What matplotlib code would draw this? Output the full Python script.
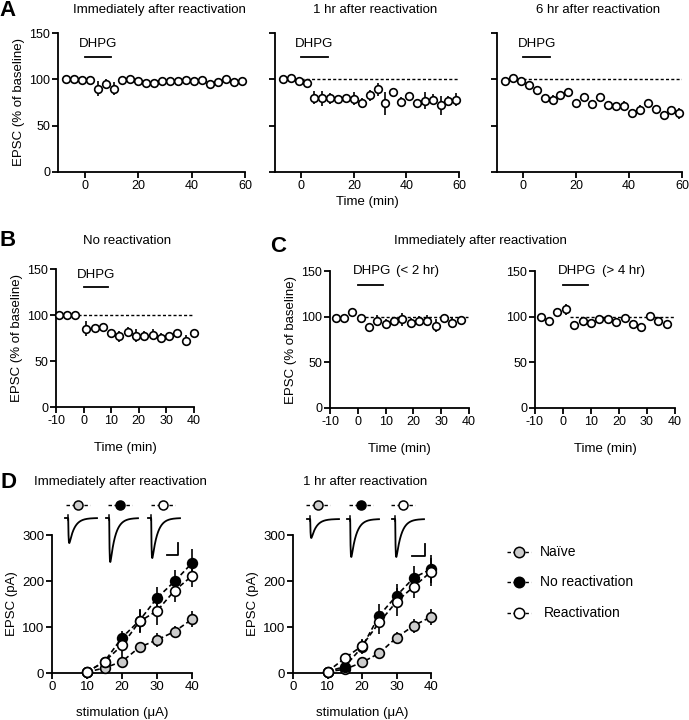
import numpy as np
import matplotlib
matplotlib.use("Agg")
import matplotlib.pyplot as plt

plt.rcParams["font.family"] = ["Liberation Sans", "DejaVu Sans"]
plt.rcParams["axes.unicode_minus"] = False

W, H = 689, 720

# ---- data: panel A (time course, % of baseline) ----
t_a = [-7, -4, -1, 2, 5, 8, 11, 14, 17, 20, 23, 26, 29, 32, 35, 38, 41, 44, 47, 50, 53, 56, 59]
a1_mean = [100, 100, 99.5, 99, 90, 95, 90, 99, 100.5, 98, 96, 96, 98, 98.5, 98, 99, 98, 99.5, 95, 97, 100, 97, 98]
a1_err = [1, 1, 1, 2, 8, 5, 7, 3, 2, 2, 2, 2, 2, 2, 2, 2, 2, 2, 4, 2, 2, 2, 2]
a2_mean = [100, 101.5, 98, 96, 80, 79.5, 79.5, 78.5, 79.5, 79, 74.5, 83, 89.5, 74, 86, 76, 82, 75, 77, 78, 72, 77, 78]
a2_err = [1, 1, 1, 1, 7, 8, 6, 3, 4, 7, 5, 6, 7, 12, 3, 5, 3, 4, 9, 6, 10, 5, 7]
a3_mean = [98, 101, 98, 93.5, 89, 80, 78, 83, 86, 74.5, 81, 73, 80.5, 72, 71, 71.5, 63.5, 67, 75, 68, 62, 67, 63.5]
a3_err = [2, 2, 2, 3, 4, 4, 5, 3, 3, 3, 3, 5, 3, 4, 4, 5, 4, 5, 3, 4, 3, 4, 6]
a_titles = ["Immediately after reactivation", "1 hr after reactivation", "6 hr after reactivation"]

# ---- panel B ----
t_b = [-9, -6, -3, 1, 4, 7, 10, 13, 16, 19, 22, 25, 28, 31, 34, 37, 40]
b_mean = [100, 100, 100, 85, 85.5, 87, 80.5, 77, 81.5, 77.5, 77.5, 78.5, 75.5, 77, 80, 72, 80]
b_err = [1, 1, 1, 8, 3, 3, 4, 6, 5, 7, 5, 6, 5, 5, 5, 6, 5]

# ---- panel C ----
t_c = [-8, -5, -2, 1, 4, 7, 10, 13, 16, 19, 22, 25, 28, 31, 34, 37]
c1_mean = [98, 98, 105.5, 98, 88.5, 95.5, 92, 95.5, 97, 93.5, 95.5, 95.5, 90, 98, 93.5, 96.5]
c1_err = [2, 2, 2, 2, 3, 6, 5, 4, 7, 5, 5, 6, 7, 3, 6, 4]
c2_mean = [100, 95.5, 105.5, 108, 91, 95.5, 93.5, 97, 97.5, 94.5, 99, 92.5, 88.5, 100.5, 95.5, 91.5]
c2_err = [2, 2, 3, 6, 3, 3, 3, 2, 3, 3, 3, 4, 5, 2, 3, 5]

# ---- panel D (input-output, pA) ----
stim = [10, 15, 20, 25, 30, 35, 40]
d1_naive = [2, 11, 25, 56, 72, 90, 117]
d1_naive_err = [4, 8, 10, 10, 15, 12, 18]
d1_norea = [2, 25, 77, 114, 163, 199, 239]
d1_norea_err = [4, 10, 15, 25, 25, 25, 30]
d1_rea = [2, 25, 60, 112, 135, 179, 211]
d1_rea_err = [4, 10, 25, 25, 30, 25, 25]
d2_naive = [3, 8, 23, 43, 77, 103, 122]
d2_naive_err = [4, 6, 8, 10, 12, 15, 18]
d2_norea = [3, 14, 56, 125, 168, 207, 226]
d2_norea_err = [4, 8, 15, 25, 25, 25, 30]
d2_rea = [3, 32, 59, 110, 155, 188, 220]
d2_rea_err = [4, 12, 15, 25, 30, 25, 30]
groups = ["Naïve", "No reactivation", "Reactivation"]
group_fill = ["#cccccc", "black", "white"]
# relative example trace amplitudes (naive, no reactivation, reactivation)
d1_trace_amp = [0.57, 1.0, 0.91]
d2_trace_amp = [0.50, 1.0, 1.0]

fig = plt.figure(figsize=(W / 100, H / 100), dpi=100)


def px_axes(left, right, top, bottom):
    return fig.add_axes([left / W, 1 - bottom / H, (right - left) / W, (bottom - top) / H])


def style(ax, xlim, ylim, xticks, yticks, ylabels=True, size=9):
    ax.set_xlim(xlim)
    ax.set_ylim(ylim)
    for s in ("top", "right"):
        ax.spines[s].set_visible(False)
    for s in ("left", "bottom"):
        ax.spines[s].set_linewidth(1.3)
    ax.set_xticks(xticks)
    ax.set_yticks(yticks)
    ax.tick_params(direction="out", length=4, width=1.3, labelsize=size, pad=1.5)
    if not ylabels:
        ax.set_yticklabels([])
    ax.patch.set_alpha(0)


def timecourse(ax, t, m, e, dash=None):
    if dash is not None:
        ax.plot(dash, [100, 100], ls=(0, (2.2, 1.6)), color="k", lw=1, zorder=1)
    ax.errorbar(t, m, yerr=e, fmt="o", ms=5.5, mfc="white", mec="k", mew=1.2,
                ecolor="k", elinewidth=1.2, capsize=0, clip_on=False, zorder=3)


def dhpg(ax, x0, x1, ybar, xt, yt):
    ax.plot([x0, x1], [ybar, ybar], color="k", lw=1.3, clip_on=False)
    ax.text(xt, yt, "DHPG", ha="center", va="center", fontsize=9.5)


# ---------------- A ----------------
a_pos = [(58, 245), (275, 459), (497, 682)]
a_data = [(a1_mean, a1_err), (a2_mean, a2_err), (a3_mean, a3_err)]
for i, ((l, r), (m, e)) in enumerate(zip(a_pos, a_data)):
    ax = px_axes(l, r, 33, 172)
    style(ax, (-10, 60), (0, 150), [0, 20, 40, 60], [0, 50, 100, 150], ylabels=(i == 0))
    timecourse(ax, t_a, m, e, dash=None if i == 0 else (0, 60))
    dhpg(ax, 0, 10, 124, 5, 138)
    fig.text((l + r) / 2 / W + 0.012, 1 - 10 / H, a_titles[i], ha="center", va="center", fontsize=9.5)
    if i == 0:
        ax.set_ylabel("EPSC (% of baseline)", fontsize=9.5, labelpad=3)
    if i == 1:
        ax.set_xlabel("Time (min)", fontsize=9.5, labelpad=3)

# ---------------- B ----------------
ax = px_axes(56, 194, 269, 407)
style(ax, (-10, 40), (0, 150), [-10, 0, 10, 20, 30, 40], [0, 50, 100, 150])
timecourse(ax, t_b, m=b_mean, e=b_err, dash=(-2, 40))
dhpg(ax, 0, 9, 130, 4.5, 143)
ax.set_ylabel("EPSC (% of baseline)", fontsize=9.5, labelpad=3)
ax.set_xlabel("Time (min)", fontsize=9.5, labelpad=11)
fig.text(127 / W, 1 - 241 / H, "No reactivation", ha="center", va="center", fontsize=9.5)

# ---------------- C ----------------
c_pos = [(330, 469), (535, 675)]
c_data = [(c1_mean, c1_err, "(< 2 hr)"), (c2_mean, c2_err, "(> 4 hr)")]
for i, ((l, r), (m, e, lab)) in enumerate(zip(c_pos, c_data)):
    ax = px_axes(l, r, 271, 408)
    style(ax, (-10, 40), (0, 150), [-10, 0, 10, 20, 30, 40], [0, 50, 100, 150])
    timecourse(ax, t_c, m, e, dash=(2.5, 39.5))
    dhpg(ax, 0, 9, 135, 5, 150)
    ax.text(21.5, 150, lab, ha="center", va="center", fontsize=9.5)
    ax.set_xlabel("Time (min)", fontsize=9.5, labelpad=11)
    if i == 0:
        ax.set_ylabel("EPSC (% of baseline)", fontsize=9.5, labelpad=3)
fig.text(480 / W, 1 - 241 / H, "Immediately after reactivation", ha="center", va="center", fontsize=9.5)

# ---------------- D ----------------
d_pos = [(52, 192), (293, 431)]
d_sets = [
    [(d1_naive, d1_naive_err), (d1_norea, d1_norea_err), (d1_rea, d1_rea_err)],
    [(d2_naive, d2_naive_err), (d2_norea, d2_norea_err), (d2_rea, d2_rea_err)],
]
d_titles = [("Immediately after reactivation", 120), ("1 hr after reactivation", 365)]
for i, ((l, r), sets) in enumerate(zip(d_pos, d_sets)):
    ax = px_axes(l, r, 535, 673)
    style(ax, (0, 40), (0, 300), [0, 10, 20, 30, 40], [0, 100, 200, 300], size=9.5)
    for k in (1, 2, 0):
        m, e = sets[k]
        ax.errorbar(stim, m, yerr=e, fmt="o", ls=(0, (3, 1.8)), lw=1.2, color="k",
                    ms=7, mfc=group_fill[k], mec="k", mew=1.2, ecolor="k",
                    elinewidth=1.2, capsize=0, clip_on=False, zorder=3 + k)
    ax.set_ylabel("EPSC (pA)", fontsize=9.5, labelpad=3)
    ax.set_xlabel("stimulation (\u03bcA)", fontsize=9.5, labelpad=10)
    fig.text(d_titles[i][1] / W, 1 - 482 / H, d_titles[i][0], ha="center", va="center", fontsize=9.5)

# overlay in pixel coordinates for labels, example traces and legend
ov = fig.add_axes([0, 0, 1, 1])
ov.set_xlim(0, W)
ov.set_ylim(H, 0)
ov.axis("off")

for letter, x, y in [("A", 8, 11), ("B", 8, 240), ("C", 278, 247), ("D", 8, 482)]:
    ov.text(x, y, letter, ha="center", va="center", fontsize=16, fontweight="bold")


def trace(x0, width, base, amp):
    tt = np.linspace(0, 1, 300)
    on = 0.1
    s = np.clip(tt - on, 0, None)
    wave = np.exp(-s / 0.16) - np.exp(-s / 0.012)
    wave = wave / wave.max()
    ov.plot(x0 + tt * width, base + amp * wave, color="k", lw=1.3)
    ov.plot([x0 + on * width, x0 + on * width], [base - 3, base + 2], color="k", lw=1.1)


def key(x, y, fill, ms=6.5, half=12):
    ov.plot([x - half, x + half], [y, y], ls=(0, (2.5, 1.8)), color="k", lw=1)
    ov.plot([x], [y], "o", ms=ms, mfc=fill, mec="k", mew=1.1)


trace_sets = [
    (d1_trace_amp, [65, 106, 148], 518, 44, (167, 178, 543, 555)),
    (d2_trace_amp, [307, 347, 392], 519, 38, (412, 425, 544, 556)),
]
key_x = [[78, 120, 163], [318, 361, 403]]
for (amps, xs, base, full, bar), kx in zip(trace_sets, key_x):
    for a, x0, k, fill in zip(amps, xs, kx, group_fill):
        trace(x0, 32, base, full * a)
        key(k, 505, fill)
    x_l, x_r, y_t, y_b = bar
    ov.plot([x_l, x_r, x_r], [y_b, y_b, y_t], color="k", lw=1.3)

for j, (name, fill) in enumerate(zip(groups, group_fill)):
    y = [552, 582, 613][j]
    key(519, y, fill, ms=7.5)
    ov.text(540 + (4 if j == 2 else 0), y, name, ha="left", va="center", fontsize=10)

fig.savefig("out.png", dpi=100)
